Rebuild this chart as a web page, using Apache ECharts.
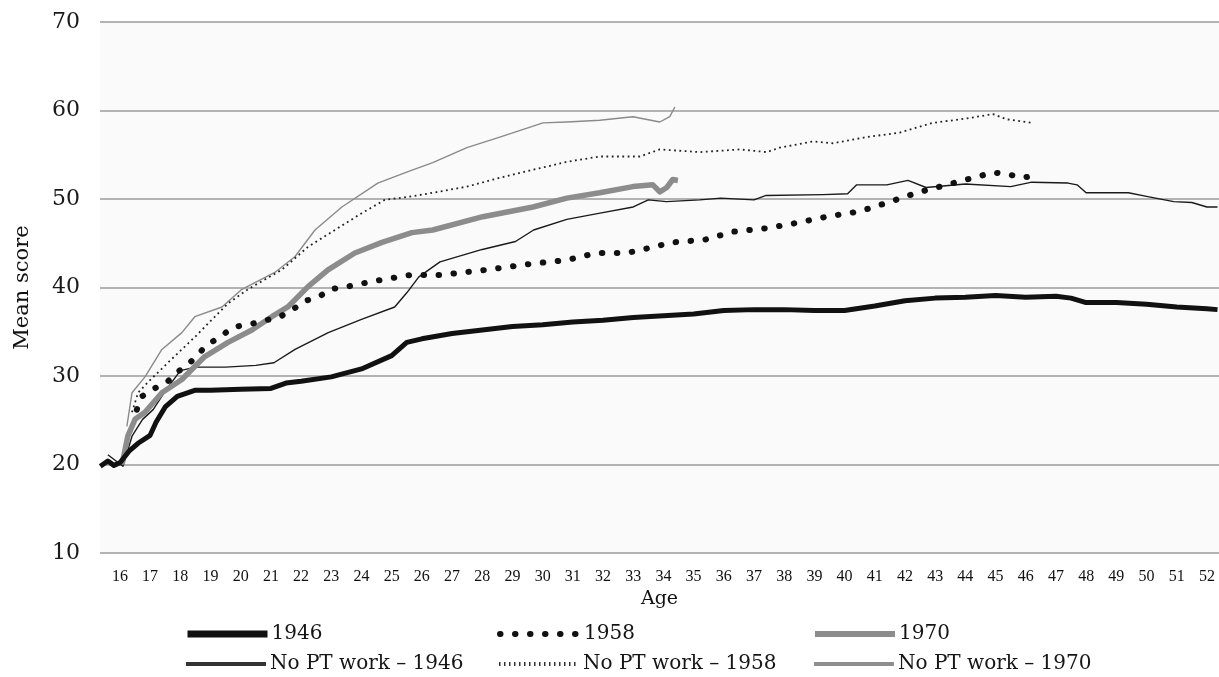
<!DOCTYPE html>
<html>
<head>
<meta charset="utf-8">
<script src="https://cdn.jsdelivr.net/npm/echarts@6/dist/echarts.min.js"></script>
<style>html,body{margin:0;padding:0;background:#fff}#c{width:1219px;height:677px}</style>
</head>
<body>
<div id="c"></div>
<script>
const ageTicks = [16,17,18,19,20,21,22,23,24,25,26,27,28,29,30,31,32,33,34,35,36,37,38,39,40,41,42,43,44,45,46,47,48,49,50,51,52];
const yTicks = [10,20,30,40,50,60,70];

const ages1946 = [15.35,15.6,15.8,16.0,16.3,16.6,17.0,17.2,17.5,17.9,18.5,19,20,21,21.5,22,23,24,25,25.5,26,27,28,29,30,31,32,33,34,35,36,37,38,39,40,41,42,43,44,45,46,47,47.5,48,49,50,51,52,52.35];
const vals1946 = [19.8,20.4,19.9,20.2,21.5,22.4,23.3,24.8,26.5,27.7,28.4,28.4,28.5,28.6,29.2,29.4,29.9,30.8,32.3,33.8,34.2,34.8,35.2,35.6,35.8,36.1,36.3,36.6,36.8,37.0,37.4,37.5,37.5,37.4,37.4,37.9,38.5,38.8,38.9,39.1,38.9,39.0,38.8,38.3,38.3,38.1,37.8,37.6,37.5];

const ages1958 = [16.56,16.73,17.09,17.56,17.89,18.32,18.88,19.31,19.74,20.5,21.3,21.73,22.06,22.62,22.95,23.52,24.38,25.6,26.6,28.15,29.68,30.8,31.79,32.79,33.32,34.31,35.37,36.3,37.42,38.42,39.41,40.5,41.43,42.39,43.38,44.38,44.91,45.4,45.9,46.36,46.46];
const vals1958 = [26.2,27.7,28.5,29.3,30.4,31.5,33.5,34.4,35.5,36.0,36.7,37.5,38.4,39.0,39.8,40.1,40.7,41.4,41.4,42.0,42.7,43.1,43.9,43.9,44.3,45.1,45.4,46.3,46.7,47.3,48.0,48.6,49.6,50.7,51.6,52.5,53.0,52.8,52.4,52.7,52.7];

const ages1970 = [16.07,16.26,16.5,16.83,17.39,18.05,18.81,19.58,20.37,21.03,21.56,22.23,22.89,23.78,24.68,25.67,26.36,28.02,29.68,30.8,31.89,32.99,33.65,33.88,34.11,34.31,34.48];
const vals1970 = [20.0,23.2,25.1,25.9,28.1,29.6,32.2,33.8,35.2,36.7,37.8,40.1,42.0,43.9,45.1,46.2,46.5,48.0,49.1,50.1,50.7,51.4,51.6,50.8,51.3,52.2,52.1];

const agesNo1946 = [15.6,16.1,16.4,16.75,17.1,17.5,18.0,18.5,19.5,20.5,21.1,21.8,22.9,24.0,25.1,25.5,25.9,26.6,28.0,29.1,29.7,30.8,31.9,33.0,33.5,34.1,35.2,35.9,37.0,37.4,39.3,40.1,40.4,41.4,42.1,42.7,44.0,45.5,46.2,47.4,47.7,48.0,49.4,50.0,50.9,51.5,52.0,52.35];
const valsNo1946 = [21.1,19.8,23.2,25.1,26.2,28.3,30.6,31.0,31.0,31.2,31.5,33.0,34.9,36.4,37.8,39.4,41.2,42.9,44.3,45.2,46.5,47.7,48.4,49.1,49.9,49.7,49.9,50.1,49.9,50.4,50.5,50.6,51.6,51.6,52.1,51.3,51.7,51.4,51.9,51.8,51.6,50.7,50.7,50.3,49.7,49.6,49.1,49.1];

const agesNo1958 = [16.4,16.6,16.93,17.59,18.48,19.58,20.24,21.36,22.23,23.12,24.01,24.77,25.67,26.36,27.49,28.58,29.68,30.8,31.89,33.22,33.88,35.21,36.53,37.42,37.85,38.95,39.61,40.74,41.83,42.92,44.05,44.91,45.37,45.8,46.2];
const valsNo1958 = [25.9,28.1,29.3,31.5,34.4,38.2,39.8,42.0,44.6,46.5,48.4,49.9,50.3,50.7,51.4,52.4,53.3,54.2,54.8,54.8,55.6,55.3,55.6,55.3,55.8,56.5,56.3,57.0,57.5,58.6,59.1,59.6,59.0,58.8,58.6];

const agesNo1970 = [16.23,16.4,16.83,17.39,18.05,18.48,19.38,20.04,21.13,21.8,22.46,23.35,24.54,25.54,26.36,27.49,28.58,30.01,30.8,31.89,32.99,33.88,34.21,34.38];
const valsNo1970 = [24.3,28.1,29.9,33.0,34.9,36.7,37.8,39.8,41.7,43.5,46.5,49.1,51.8,53.1,54.1,55.8,57.0,58.6,58.7,58.9,59.3,58.7,59.3,60.4];

const names = ['1946','1958','1970','No PT work \u2013 1946','No PT work \u2013 1958','No PT work \u2013 1970'];

function zip(a, b) { return a.map((x, i) => [x, b[i]]); }
const SERIF = "'Liberation Serif', 'Times New Roman', serif";
const WIDE = "'DejaVu Serif', 'Liberation Serif', serif";

const chart = echarts.init(document.getElementById('c'), null, {renderer: 'canvas'});

const styles = [
  {color: '#111111', width: 5, type: 'solid'},
  {color: '#111111', width: 6, type: [0.5, 14.5], cap: 'round'},
  {color: '#8c8c8c', width: 5.5, type: 'solid'},
  {color: '#1a1a1a', width: 1.4, type: 'solid'},
  {color: '#222222', width: 1.8, type: [1.8, 3.5]},
  {color: '#8a8a8a', width: 1.4, type: 'solid'}
];
const legendLine = [
  {color: '#111111', width: 7, type: 'solid', cap: 'butt'},
  {color: '#111111', width: 6, type: [0.5, 14.5], cap: 'round'},
  {color: '#8c8c8c', width: 6, type: 'solid', cap: 'butt'},
  {color: '#333333', width: 4, type: 'solid', cap: 'butt'},
  {color: '#333333', width: 4, type: [1.5, 3.5], cap: 'butt'},
  {color: '#8e8e8e', width: 4, type: 'solid', cap: 'butt'}
];
const datas = [zip(ages1946, vals1946), zip(ages1958, vals1958), zip(ages1970, vals1970),
               zip(agesNo1946, valsNo1946), zip(agesNo1958, valsNo1958), zip(agesNo1970, valsNo1970)];

const series = names.map((n, i) => ({
  name: n,
  type: 'line',
  data: datas[i],
  symbol: 'none',
  smooth: false,
  z: 10 - i,
  lineStyle: {color: styles[i].color, width: styles[i].width, type: styles[i].type, cap: styles[i].cap || 'butt', join: 'round'},
  itemStyle: {color: styles[i].color}
}));

const legendPos = [
  {left: 184, top: 624}, {left: 497, top: 624}, {left: 812, top: 624},
  {left: 184, top: 654}, {left: 497, top: 654}, {left: 812, top: 654}
];
const legends = names.map((n, i) => ({
  data: [n],
  left: legendPos[i].left,
  top: legendPos[i].top,
  itemWidth: 80,
  itemHeight: 20,
  itemGap: 0,
  padding: 0,
  itemStyle: {color: 'rgba(0,0,0,0)', borderWidth: 0, opacity: 0},
  lineStyle: legendLine[i],
  textStyle: {fontFamily: WIDE, fontSize: 20, lineHeight: 20, color: '#151515', padding: [0, 0, 0, -1]},
  selectedMode: false
}));

chart.setOption({
  animation: false,
  backgroundColor: '#ffffff',
  grid: {left: 100, right: 0, top: 22, bottom: 124, show: true, backgroundColor: '#fafafa', borderWidth: 0},
  legend: legends,
  xAxis: {
    type: 'value',
    min: 15.34,
    max: 52.4,
    name: 'Age',
    nameLocation: 'middle',
    nameGap: 37,
    nameTextStyle: {fontFamily: WIDE, fontSize: 19, color: '#111'},
    axisLine: {show: false},
    axisTick: {show: false},
    splitLine: {show: false},
    axisLabel: {
      customValues: ageTicks,
      fontFamily: SERIF, fontSize: 16, color: '#111', margin: 16
    }
  },
  yAxis: {
    type: 'value',
    min: yTicks[0],
    max: yTicks[yTicks.length - 1],
    interval: 10,
    name: 'Mean score',
    nameLocation: 'middle',
    nameGap: 67,
    nameTextStyle: {fontFamily: WIDE, fontSize: 21, color: '#111'},
    axisLine: {show: false},
    axisTick: {show: false},
    splitLine: {show: true, lineStyle: {color: '#b3b3b3', width: 2}},
    axisLabel: {fontFamily: WIDE, fontSize: 22, color: '#1a1a1a', margin: 20}
  },
  series: series
});
</script>
</body>
</html>
